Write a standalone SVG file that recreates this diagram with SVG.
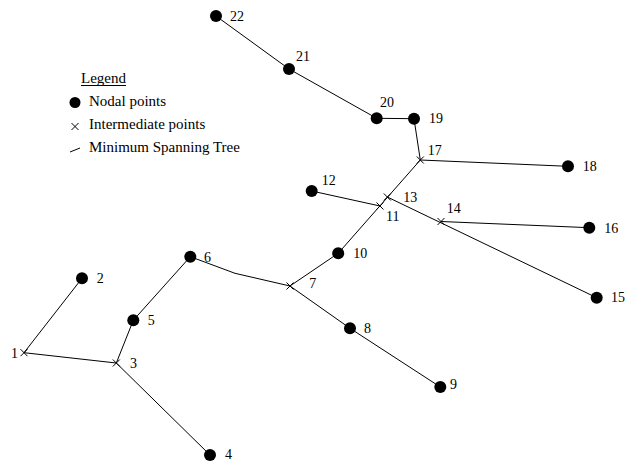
<svg xmlns="http://www.w3.org/2000/svg" width="629" height="461" viewBox="0 0 629 461">
<defs>
<style>
.e{stroke:#000;stroke-width:1;fill:none}
.d{fill:#000}
.x{stroke:#000;stroke-width:1;fill:none}
.t{font-family:"Liberation Serif","Times New Roman",serif;font-size:14px;fill:#000}
.lg{font-family:"Liberation Serif","Times New Roman",serif;font-size:15px;fill:#000}
</style>
<g id="xm"><path class="x" d="M-3.5,-3.5L3.5,3.5M-3.5,3.5L3.5,-3.5"/></g>
</defs>
<rect width="629" height="461" fill="#fff"/>
<g id="legend">
<text class="lg" x="81" y="83">Legend</text>
<line class="e" x1="81" y1="85.5" x2="126" y2="85.5"/>
<circle class="d" cx="75" cy="102.5" r="5.5"/>
<text class="lg" x="89" y="106">Nodal points</text>
<use href="#xm" x="75" y="126.5"/>
<text class="lg" x="89" y="128.5">Intermediate points</text>
<line class="e" x1="70" y1="152" x2="80" y2="148"/>
<text class="lg" x="89" y="151.5">Minimum Spanning Tree</text>
</g>
<g id="connectors">
<polyline class="e" points="216,16 289,69 376.7,118.3 414,118.7 420.3,160 568,166.3"/>
<line class="e" x1="420.3" y1="160" x2="338.2" y2="253.3"/>
<line class="e" x1="311.7" y1="191" x2="380" y2="206"/>
<line class="e" x1="387.3" y1="197" x2="596.7" y2="297.7"/>
<line class="e" x1="441" y1="221.5" x2="589.3" y2="227.7"/>
<line class="e" x1="338.2" y1="253.3" x2="290" y2="286"/>
<polyline class="e" points="190.3,256.7 235,273.3 290,286"/>
<polyline class="e" points="290,286 350,328.3 440.3,387"/>
<polyline class="e" points="82,278.3 24,352.7 116.3,363 133.3,320.3 190.3,256.7"/>
<line class="e" x1="116.3" y1="363" x2="210" y2="455"/>
</g>
<g id="n1"><use href="#xm" x="24" y="352.7"/><text class="t" x="11" y="358.3">1</text></g>
<g id="n2"><circle class="d" cx="82" cy="278.3" r="6"/><text class="t" x="96.7" y="283.3">2</text></g>
<g id="n3"><use href="#xm" x="116.3" y="363"/><text class="t" x="130" y="368.3">3</text></g>
<g id="n4"><circle class="d" cx="210" cy="455" r="6"/><text class="t" x="225" y="459.3">4</text></g>
<g id="n5"><circle class="d" cx="133.3" cy="320.3" r="6"/><text class="t" x="147.7" y="325.3">5</text></g>
<g id="n6"><circle class="d" cx="190.3" cy="256.7" r="6"/><text class="t" x="204" y="261.7">6</text></g>
<g id="n7"><use href="#xm" x="290" y="286"/><text class="t" x="309.3" y="288.3">7</text></g>
<g id="n8"><circle class="d" cx="350" cy="328.3" r="6"/><text class="t" x="364" y="333.3">8</text></g>
<g id="n9"><circle class="d" cx="440.3" cy="387" r="6"/><text class="t" x="450" y="389">9</text></g>
<g id="n10"><circle class="d" cx="338.2" cy="253.3" r="6"/><text class="t" x="353.3" y="258.3">10</text></g>
<g id="n11"><use href="#xm" x="380" y="206"/><text class="t" x="386" y="220.7">11</text></g>
<g id="n12"><circle class="d" cx="311.7" cy="191" r="6"/><text class="t" x="321.7" y="185">12</text></g>
<g id="n13"><use href="#xm" x="387.3" y="197"/><text class="t" x="403.3" y="201.7">13</text></g>
<g id="n14"><use href="#xm" x="441" y="221.5"/><text class="t" x="446.7" y="212.7">14</text></g>
<g id="n15"><circle class="d" cx="596.7" cy="297.7" r="6"/><text class="t" x="611" y="302.3">15</text></g>
<g id="n16"><circle class="d" cx="589.3" cy="227.7" r="6"/><text class="t" x="604.3" y="232.7">16</text></g>
<g id="n17"><use href="#xm" x="420.3" y="160"/><text class="t" x="427.7" y="155">17</text></g>
<g id="n18"><circle class="d" cx="568" cy="166.3" r="6"/><text class="t" x="582.7" y="171">18</text></g>
<g id="n19"><circle class="d" cx="414" cy="118.7" r="6"/><text class="t" x="429" y="123">19</text></g>
<g id="n20"><circle class="d" cx="376.7" cy="118.3" r="6"/><text class="t" x="380" y="106.7">20</text></g>
<g id="n21"><circle class="d" cx="289" cy="69" r="6"/><text class="t" x="296" y="61">21</text></g>
<g id="n22"><circle class="d" cx="216" cy="16" r="6"/><text class="t" x="230" y="21">22</text></g>
</svg>
